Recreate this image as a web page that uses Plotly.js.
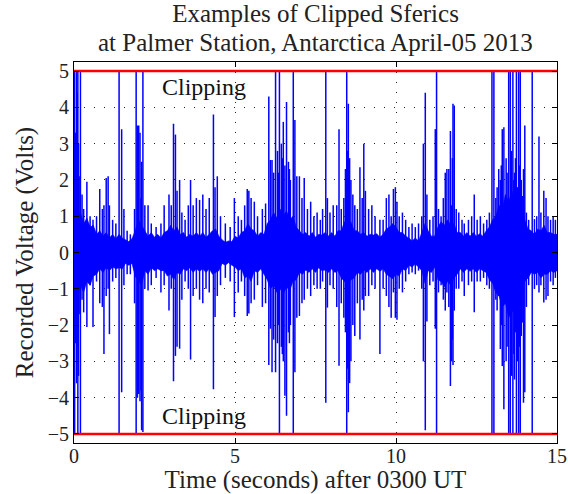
<!DOCTYPE html>
<html>
<head>
<meta charset="utf-8">
<script src="https://cdn.plot.ly/plotly-3.0.1.min.js"></script>
<style>html,body{margin:0;padding:0;background:#fff}#chart{width:568px;height:494px}</style>
</head>
<body>
<div id="chart"></div>
<script>
// Clipping level (Volts)
const clipLevel = [5, -5];
const timeRange = [0, 15];
const titleLines = ['Examples of Clipped Sferics', 'at Palmer Station, Antarctica April-05 2013'];

// Background noise band envelope, sampled every 0.1 s from t = 0 to 15 s
const bandStep = 0.1;
const bandHi = [
  1.2, 0.9, 1.1, 0.8, 0.95, 0.7, 0.75, 0.5, 0.6, 0.45,
  0.55, 0.4, 0.5, 0.38, 0.5, 0.4, 0.35, 0.3, 0.38, 0.6,
  0.9, 0.75, 0.6, 0.45, 0.55, 0.42, 0.5, 0.4, 0.55, 0.6,
  0.75, 0.6, 0.7, 0.5, 0.55, 0.42, 0.5, 0.45, 0.55, 0.45,
  0.55, 0.42, 0.5, 0.6, 0.65, 0.45, 0.35, 0.28, 0.32, 0.3,
  0.45, 0.4, 0.55, 0.6, 0.8, 0.65, 0.6, 0.45, 0.55, 0.5,
  0.8, 0.9, 1.1, 0.95, 1.2, 1.0, 1.15, 0.9, 1.0, 0.7,
  0.6, 0.5, 0.55, 0.45, 0.55, 0.42, 0.5, 0.48, 0.55, 0.45,
  0.55, 0.45, 0.6, 0.6, 0.85, 0.75, 0.85, 0.6, 0.6, 0.5,
  0.55, 0.45, 0.5, 0.48, 0.52, 0.42, 0.5, 0.65, 0.7, 0.8,
  0.7, 0.55, 0.55, 0.45, 0.4, 0.32, 0.4, 0.32, 0.55, 0.8,
  0.6, 0.45, 0.45, 0.7, 0.85, 0.75, 0.9, 0.75, 0.8, 0.55,
  0.55, 0.45, 0.55, 0.45, 0.55, 0.45, 0.52, 0.45, 0.6, 0.7,
  0.9, 1.0, 1.3, 1.2, 1.6, 1.4, 1.7, 1.5, 1.4, 1.1,
  0.9, 0.65, 0.6, 0.5, 0.65, 0.6, 0.75, 0.55, 0.55, 0.5,
  0.5
];
const bandLo = [
  -1.0, -1.3, -0.9, -1.1, -0.8, -0.9, -0.65, -0.6, -0.45, -0.55,
  -0.42, -0.5, -0.4, -0.45, -0.42, -0.45, -0.3, -0.35, -0.3, -0.65,
  -0.8, -0.9, -0.5, -0.6, -0.42, -0.5, -0.45, -0.5, -0.5, -0.65,
  -0.6, -0.75, -0.55, -0.6, -0.45, -0.5, -0.42, -0.55, -0.45, -0.52,
  -0.45, -0.55, -0.45, -0.6, -0.55, -0.5, -0.3, -0.35, -0.28, -0.35,
  -0.4, -0.5, -0.45, -0.7, -0.65, -0.8, -0.5, -0.55, -0.45, -0.6,
  -0.75, -1.0, -0.9, -1.1, -1.0, -1.15, -0.95, -1.05, -0.8, -0.75,
  -0.55, -0.6, -0.48, -0.55, -0.45, -0.55, -0.42, -0.5, -0.48, -0.55,
  -0.45, -0.55, -0.5, -0.7, -0.8, -0.9, -0.75, -0.7, -0.55, -0.6,
  -0.48, -0.55, -0.45, -0.55, -0.45, -0.52, -0.45, -0.6, -0.65, -0.72,
  -0.6, -0.65, -0.45, -0.5, -0.35, -0.4, -0.32, -0.4, -0.5, -0.85,
  -0.5, -0.55, -0.4, -0.75, -0.8, -0.95, -0.8, -0.9, -0.7, -0.6,
  -0.45, -0.55, -0.45, -0.52, -0.45, -0.55, -0.45, -0.5, -0.55, -0.75,
  -0.85, -1.1, -1.2, -1.5, -1.4, -1.8, -1.6, -1.7, -1.3, -1.2,
  -0.8, -0.7, -0.55, -0.6, -0.55, -0.7, -0.6, -0.6, -0.5, -0.55,
  -0.5
];

// Individual sferic spikes: time (s), positive peak, negative peak (V)
const spikeTime = [
  0.02,0.05,0.08,0.12,0.16,0.2,0.25,0.3,0.4,0.5,0.59,0.7,0.8,0.88,0.93,1.0,1.06,1.1,1.2,1.3,
  1.4,1.48,1.55,1.65,1.75,1.88,1.93,1.97,2.01,2.05,2.1,2.14,2.2,2.3,2.4,2.55,2.7,2.8,2.95,3.02,
  3.09,3.15,3.2,3.28,3.35,3.45,3.55,3.62,3.7,3.8,3.9,4.0,4.1,4.2,4.33,4.38,4.45,4.55,4.7,4.85,
  4.98,5.1,5.2,5.3,5.38,5.43,5.5,5.6,5.7,5.85,5.95,6.05,6.1,6.15,6.2,6.26,6.32,6.38,6.44,6.5,
  6.55,6.6,6.66,6.72,6.81,6.86,6.92,7.0,7.08,7.15,7.25,7.35,7.45,7.55,7.65,7.72,7.82,7.87,7.95,8.05,
  8.16,8.23,8.3,8.38,8.43,8.47,8.52,8.56,8.6,8.66,8.72,8.8,8.88,8.95,9.0,9.05,9.15,9.25,9.35,9.5,
  9.6,9.7,9.78,9.85,9.92,9.98,10.03,10.1,10.2,10.3,10.4,10.5,10.6,10.7,10.8,10.85,10.91,10.96,11.05,11.15,
  11.22,11.26,11.32,11.4,11.47,11.53,11.58,11.64,11.69,11.73,11.77,11.81,11.87,11.95,12.05,12.12,12.25,12.35,12.43,12.52,
  12.62,12.72,12.82,12.9,12.98,13.04,13.1,13.19,13.24,13.3,13.35,13.42,13.5,13.55,13.59,13.63,13.68,13.74,13.81,13.86,
  13.92,13.96,14.0,14.05,14.12,14.23,14.3,14.37,14.44,14.5,14.59,14.66,14.72,14.8,14.88,14.95,
  13.14,13.27,13.45,13.66,13.71,13.78,13.84,13.89,6.35,6.47,6.69,8.5,11.75,2.08,0.1,0.14
];
const spikeHigh = [
  5,3.3,5,5,2.1,5,1.6,1.2,1.95,1.0,0.9,1.0,1.75,1.2,1.3,2.05,2.1,1.3,0.9,0.8,
  5,3.4,1.2,0.6,0.5,1.2,5,3.5,3.5,3.3,2.5,5,1.3,1.3,0.8,0.7,0.8,1.3,1.6,1.3,
  3.55,3.25,1.7,2.0,1.1,0.9,1.3,2.0,1.3,1.5,1.45,1.6,1.2,1.5,3.8,1.8,2.1,1.0,0.8,0.7,
  1.5,1.0,0.9,1.3,1.75,1.7,1.5,1.4,1.0,1.2,1.35,4.3,2.55,2.55,2.2,5,2.8,5,3.0,3.6,
  2.4,4.15,2.5,2.0,5,3.65,2.1,2.1,1.5,2.05,1.2,1.4,1.0,1.1,0.9,1.2,5,1.5,1.1,1.3,
  1.3,3.4,1.2,1.5,2.3,5,4.1,2.6,2.0,1.6,1.3,1.2,2.35,1.5,3.0,1.7,1.2,1.3,1.0,0.9,
  0.9,1.5,1.6,1.0,1.75,1.8,1.4,1.0,1.1,0.9,0.7,0.8,0.7,0.8,1.0,3.0,4.4,1.6,0.9,1.0,
  3.4,5,1.2,1.0,1.5,2.2,2.3,2.3,3.35,1.3,4.1,4.05,1.2,1.1,0.9,0.8,0.9,1.0,1.6,0.9,
  1.0,0.8,0.9,1.1,5,5,1.5,2.3,2.0,3.4,3.45,2.6,5,5,2.8,5,2.2,5,5,5,
  1.56,2.3,3.5,1.1,0.9,5,0.92,1.0,3.2,1.1,1.7,1.5,1.0,0.9,1.0,0.9,
  1.8,2.4,2.2,2.0,2.6,1.8,2.4,2.0,2.2,2.6,2.3,2.8,2.6,1.5,4.4,3.0
];
const spikeLow = [
  -5,-2.5,-3.6,-5,-1.7,-5,-1.3,-1.65,-2.05,-0.9,-2.05,-0.8,-1.4,-1.5,-2.8,-1.2,-1.0,-2.25,-0.8,-0.7,
  -5,-3.85,-0.9,-0.6,-0.6,-1.4,-5,-4.0,-3.9,-4.1,-4.9,-4.95,-1.0,-1.05,-0.9,-0.7,-1.1,-0.9,-1.6,-1.0,
  -3.55,-2.85,-2.6,-2.65,-1.3,-0.8,-1.0,-2.95,-1.2,-1.0,-1.3,-1.4,-1.0,-1.1,-3.77,-1.78,-1.2,-0.9,-0.7,-0.8,
  -1.78,-1.1,-0.8,-1.2,-1.75,-1.68,-1.4,-1.3,-0.9,-1.5,-1.4,-3.1,-2.1,-3.3,-2.4,-3.3,-2.5,-5,-2.6,-3.0,
  -3.95,-4.5,-2.2,-2.0,-5,-3.3,-1.8,-1.75,-1.4,-1.3,-1.0,-1.2,-0.9,-1.0,-1.0,-0.8,-4.14,-1.52,-0.9,-1.0,
  -1.5,-3.12,-1.4,-1.8,-2.2,-5,-4.4,-3.6,-3.0,-2.0,-2.3,-1.4,-2.4,-1.3,-1.6,-1.2,-1.2,-0.9,-1.0,-2.8,
  -1.0,-1.2,-1.5,-1.8,-1.1,-1.8,-1.85,-1.0,-1.1,-0.8,-0.6,-0.55,-0.6,-0.5,-1.0,-3.0,-4.9,-1.9,-0.9,-0.8,
  -2.1,-5,-1.1,-0.9,-1.3,-1.6,-1.1,-1.5,-3.68,-3.0,-3.1,-1.6,-1.0,-1.0,-0.8,-1.2,-0.9,-0.8,-1.65,-0.8,
  -0.8,-0.7,-0.9,-1.0,-5,-5,-1.3,-1.2,-2.66,-3.13,-4.32,-3.0,-5,-5,-3.4,-5,-3.5,-5,-5,-5,
  -1.93,-4.14,-3.85,-1.5,-0.9,-5,-1.0,-0.9,-1.1,-0.9,-1.38,-1.3,-1.2,-0.8,-0.9,-0.7,
  -1.6,-2.0,-2.6,-2.8,-2.2,-3.0,-2.6,-2.3,-2.0,-2.8,-2.5,-3.2,-2.4,-3.8,-2.6,-3.4
];

// ---- build traces from the data ----
const bandTime = bandHi.map((_, i) => +(i * bandStep).toFixed(2));
const bandX = bandTime.concat(bandTime.slice().reverse());
const bandY = bandHi.concat(bandLo.slice().reverse());

const spX = [], spY = [];
spikeTime.forEach((t, i) => {
  spX.push(t, t, null);
  spY.push(spikeHigh[i], spikeLow[i], null);
});

const blue = '#0000ff';
const red = '#ff0000';
const traces = [
  {x: bandX, y: bandY, type: 'scatter', mode: 'lines', fill: 'toself',
   fillcolor: blue, line: {color: blue, width: 0.6}, hoverinfo: 'skip'},
  {x: spX, y: spY, type: 'scatter', mode: 'lines', connectgaps: false,
   line: {color: blue, width: 1.5}, hoverinfo: 'skip'}
];
clipLevel.forEach(v => {
  traces.push({x: timeRange, y: [v, v], type: 'scatter', mode: 'lines',
    line: {color: red, width: 2.5}, hoverinfo: 'skip'});
});

const serif = 'Liberation Serif, Times New Roman, serif';
const ink = '#222';
const layout = {
  width: 568, height: 494,
  margin: {l: 74, r: 11, t: 62, b: 51},
  paper_bgcolor: '#fff', plot_bgcolor: '#fff',
  showlegend: false,
  font: {family: serif, color: ink, size: 20},
  title: {text: titleLines[0],
    font: {family: serif, size: 25, color: ink}, x: 0.5555, xanchor: 'center',
    yref: 'container', y: 0.99, yanchor: 'top'},
  xaxis: {
    range: timeRange, tickvals: [0, 5, 10, 15], ticks: 'inside', ticklen: 5, tickcolor: '#000',
    showline: true, linecolor: '#000', linewidth: 1, mirror: 'ticks',
    showgrid: true, gridcolor: '#222', gridwidth: 1, griddash: '1px,9px',
    zeroline: false, tickfont: {family: serif, size: 20, color: ink}, ticklabelstandoff: -5,
    title: {text: 'Time (seconds) after 0300 UT', font: {family: serif, size: 25, color: ink}, standoff: 0}
  },
  yaxis: {
    range: [-5.25, 5.25], tickvals: [-5,-4,-3,-2,-1,0,1,2,3,4,5], ticks: 'inside', ticklen: 5, tickcolor: '#000',
    showline: true, linecolor: '#000', linewidth: 1, mirror: 'ticks',
    showgrid: true, gridcolor: '#222', gridwidth: 1, griddash: '1px,9px',
    zeroline: false, tickfont: {family: serif, size: 20, color: ink},
    title: {text: 'Recorded Voltage (Volts)', font: {family: serif, size: 25, color: ink}, standoff: 6}
  },
  annotations: [
    {x: 0.5, y: 1.05, xref: 'paper', yref: 'paper', xanchor: 'center', yanchor: 'middle',
     text: titleLines[1], showarrow: false, font: {family: serif, size: 25, color: ink}},
    {x: 4.03, y: 4.55, xref: 'x', yref: 'y', text: 'Clipping', showarrow: false,
     font: {family: serif, size: 24, color: '#111'}},
    {x: 4.03, y: -4.5, xref: 'x', yref: 'y', text: 'Clipping', showarrow: false,
     font: {family: serif, size: 24, color: '#111'}}
  ]
};
Plotly.newPlot('chart', traces, layout, {displayModeBar: false, staticPlot: true});
</script>
</body>
</html>
